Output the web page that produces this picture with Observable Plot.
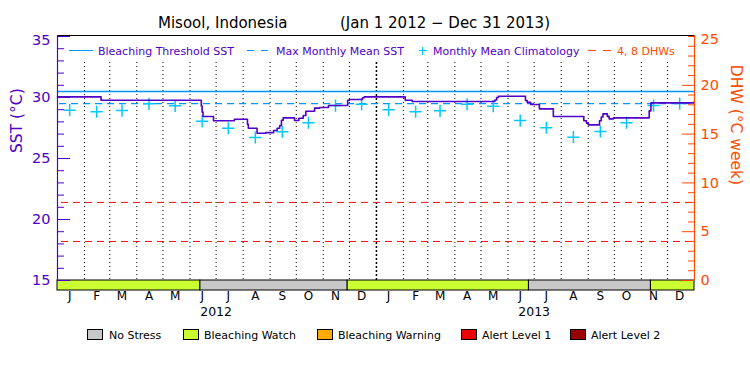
<!DOCTYPE html>
<html><head><meta charset="utf-8">
<script src="https://cdn.jsdelivr.net/npm/d3@7"></script>
<script src="https://cdn.jsdelivr.net/npm/@observablehq/plot@0.6"></script>
<style>
body{margin:0;background:#fff;}
#wrap{position:relative;width:750px;height:375px;font-family:"DejaVu Sans",sans-serif;overflow:hidden;}
#wrap svg{position:absolute;left:0;top:0;overflow:visible;}
.abs{position:absolute;white-space:nowrap;line-height:1;}
.box{position:absolute;width:14px;height:9px;border:1px solid #000;}
</style></head><body><div id="wrap"></div>
<script>
// ---------- data ----------
const sstDates = ["2012-01-01","2012-02-20","2012-06-14","2012-06-15","2012-06-16","2012-06-28","2012-07-22","2012-08-06","2012-08-07","2012-08-17","2012-08-27","2012-09-05","2012-09-09","2012-09-12","2012-09-14","2012-09-16","2012-09-29","2012-10-04","2012-10-09","2012-10-12","2012-10-22","2012-10-28","2012-11-07","2012-11-29","2012-12-01","2012-12-16","2012-12-18","2013-02-03","2013-02-11","2013-05-17","2013-05-19","2013-05-21","2013-06-21","2013-06-23","2013-06-27","2013-07-07","2013-07-23","2013-08-27","2013-08-30","2013-09-01","2013-09-14","2013-09-16","2013-09-18","2013-09-23","2013-09-25","2013-09-30","2013-11-10","2013-11-12","2013-12-31"];
const sstValues = [30.05,29.78,29.3,28.8,28.44,28.1,28.22,27.8,27.48,27.07,27.12,27.3,27.48,27.7,28.14,28.33,28.11,28.3,28.52,28.87,29.13,29.18,29.34,29.78,29.84,29.98,30.05,29.78,29.67,29.8,30.0,30.1,29.75,29.6,29.43,29.07,28.44,28.1,27.9,27.76,28.1,28.4,28.66,28.45,28.25,28.33,28.9,29.56,29.6];

const climDates = ["2012-01-15","2012-02-15","2012-03-15","2012-04-15","2012-05-15","2012-06-15","2012-07-15","2012-08-15","2012-09-15","2012-10-15","2012-11-15","2012-12-15","2013-01-15","2013-02-15","2013-03-15","2013-04-15","2013-05-15","2013-06-15","2013-07-15","2013-08-15","2013-09-15","2013-10-15","2013-11-15","2013-12-15"];
const climValues = [28.96,28.83,28.93,29.48,29.32,28.06,27.48,26.72,27.19,27.93,29.34,29.45,28.99,28.83,28.91,29.45,29.29,28.11,27.52,26.75,27.21,27.93,29.34,29.5];

const bleachingThreshold = 30.5;
const maxMonthlyMean = 29.5;
const dhwLevels = [4, 8];

const stressStart = ["2012-01-01","2012-06-13","2012-11-29","2013-06-25","2013-11-12"];
const stressEnd   = ["2012-06-13","2012-11-29","2013-06-25","2013-11-12","2014-01-01"];
const stressLevel = ["Bleaching Watch","No Stress","Bleaching Watch","No Stress","Bleaching Watch"];

const monthLetters = ["J","F","M","A","M","J","J","A","S","O","N","D","J","F","M","A","M","J","J","A","S","O","N","D"];
const yearLabels = ["2012","2013"];
const yearLabelDates = ["2012-07-01","2013-07-01"];

const sstTicks = [15,20,25,30,35];
const dhwTicks = [0,5,10,15,20,25];

const legendLevels = ["No Stress","Bleaching Watch","Bleaching Warning","Alert Level 1","Alert Level 2"];
const legendColors = ["#C8C8C8","#CCFF33","#FFAA00","#EE0000","#990000"];

// ---------- style ----------
const PURPLE="#5000C8", ORANGE="#FF4A00", BLUE="#0096FF", CYAN="#00C8FF", RED="#EE1111";
const FONT='"DejaVu Sans", sans-serif';

const P = s => new Date(s + "T00:00:00Z");
const sst = sstDates.map((d,i)=>({date:P(d), v:sstValues[i]}));
const clim = climDates.map((d,i)=>({date:P(d), v:climValues[i]}));
const stress = stressStart.map((d,i)=>({start:P(d), end:P(stressEnd[i]), level:stressLevel[i]}));
const colorOf = Object.fromEntries(legendLevels.map((l,i)=>[l, legendColors[i]]));
const monthMids = climDates.map((d,i)=>({date:P(d), t:monthLetters[i]}));
const years = yearLabels.map((y,i)=>({date:P(yearLabelDates[i]), t:y}));
const grid = d3.utcMonth.range(P("2012-02-01"), P("2014-01-01")).filter(d => d.getUTCMonth() !== 0);
const yearLines = [P("2013-01-01")];
const dhwToSst = d => 15 + d * 20 / 25;   // twin-axis mapping: 0..25 DHW -> 15..35 degC

const xStart = P("2012-01-01"), xEnd = P("2014-01-01");

const chart = Plot.plot({
  width: 750, height: 375,
  marginTop: 35, marginBottom: 85, marginLeft: 57, marginRight: 56,
  style: {fontFamily: FONT, background: "transparent", color: "black"},
  x: {type: "utc", domain: [xStart, xEnd], axis: null},
  y: {domain: [15, 35], range: [280, 36], axis: null},
  marks: [
    // month grid
    Plot.ruleX(grid, {stroke: "black", strokeDasharray: "1,3", insetTop: 27, insetBottom: 10}),
    Plot.ruleX(yearLines, {stroke: "black", strokeWidth: 1.5, strokeDasharray: "2,2", insetTop: 27, insetBottom: 10}),
    // DHW reference lines
    Plot.ruleY(dhwLevels, {y: dhwToSst, stroke: RED, strokeDasharray: "7,5", insetLeft: 4}),
    // threshold & MMM
    Plot.ruleY([bleachingThreshold], {stroke: BLUE, strokeWidth: 1.5}),
    Plot.ruleY([maxMonthlyMean], {stroke: BLUE, strokeWidth: 1.3, strokeDasharray: "7,5", insetLeft: 2}),
    // climatology
    Plot.dot(clim, {x: "date", y: "v", symbol: "plus", r: 4, stroke: CYAN, strokeWidth: 1.5}),
    // SST
    Plot.line(sst, {x: "date", y: "v", stroke: PURPLE, strokeWidth: 1.6, curve: "step-after"}),
    // stress strip
    Plot.rect(stress, {x1: "start", x2: "end", fill: d => colorOf[d.level], stroke: "black", strokeWidth: 1, insetTop: 245}),
    // frame pieces
    Plot.ruleY([35], {stroke: "black", dy: -1}),
    Plot.ruleX([xStart], {stroke: PURPLE, strokeWidth: 1.2, insetBottom: 10}),
    Plot.ruleX([xEnd], {stroke: ORANGE, strokeWidth: 1.2, insetBottom: 10}),
    // left ticks (inside)
    Plot.tickY(d3.range(15, 36).filter(v => v % 5), {stroke: PURPLE, insetRight: 630}),
    Plot.tickY(sstTicks, {stroke: PURPLE, insetRight: 624}),
    // right ticks (inside)
    Plot.tickY(d3.range(0, 26).filter(v => v % 5), {y: dhwToSst, stroke: ORANGE, insetLeft: 631}),
    Plot.tickY(dhwTicks.filter(v => v < 25), {y: dhwToSst, stroke: ORANGE, insetLeft: 625}),
    Plot.tickY([25], {y: dhwToSst, stroke: ORANGE, insetLeft: 631}),
    // left tick labels
    Plot.text(sstTicks.filter(v => v < 35), {y: d => d, text: d => String(d), frameAnchor: "left", dx: -7, textAnchor: "end", fill: PURPLE, fontSize: 14.5}),
    Plot.text([35], {y: d => d, text: d => String(d), frameAnchor: "left", dx: -7, dy: 4, textAnchor: "end", fill: PURPLE, fontSize: 14.5}),
    // right tick labels
    Plot.text(dhwTicks.filter(v => v < 25), {y: dhwToSst, text: d => String(d), frameAnchor: "right", dx: 6, textAnchor: "start", fill: ORANGE, fontSize: 14.5}),
    Plot.text([25], {y: dhwToSst, text: d => String(d), frameAnchor: "right", dx: 6, dy: 3, textAnchor: "start", fill: ORANGE, fontSize: 14.5}),
    // axis titles
    Plot.text(["SST (°C)"], {frameAnchor: "left", dx: -40, dy: -10, rotate: -90, fill: PURPLE, fontSize: 15.5}),
    Plot.text(["DHW (°C week)"], {frameAnchor: "right", dx: 41, dy: 22, rotate: 90, fill: ORANGE, fontSize: 15.5}),
    // month & year labels
    Plot.text(monthMids, {x: "date", text: "t", frameAnchor: "bottom", dy: 9, fill: "black", fontSize: 12}),
    Plot.text(years, {x: "date", text: "t", frameAnchor: "bottom", dy: 25, fill: "black", fontSize: 12.5})
  ]
});

const wrap = document.getElementById("wrap");
wrap.appendChild(chart);

// ---------- HTML title & legends ----------
function add(html){ wrap.insertAdjacentHTML("beforeend", html); }
add(`<div class="abs" style="left:158px;top:16px;font-size:15px;color:#000">Misool, Indonesia</div>`);
add(`<div class="abs" style="left:340px;top:16px;font-size:15px;color:#000">(Jan 1 2012 − Dec 31 2013)</div>`);

// in-plot legend
add(`<div class="abs" style="left:69px;top:50px;width:24px;border-top:1.5px solid ${BLUE}"></div>`);
add(`<div class="abs" style="left:98px;top:45.5px;font-size:11px;color:${PURPLE}">Bleaching Threshold SST</div>`);
add(`<div class="abs" style="left:247px;top:50px;width:7px;border-top:1.3px solid ${BLUE}"></div>`);
add(`<div class="abs" style="left:261px;top:50px;width:7px;border-top:1.3px solid ${BLUE}"></div>`);
add(`<div class="abs" style="left:276px;top:45.5px;font-size:11px;color:${PURPLE}">Max Monthly Mean SST</div>`);
add(`<div class="abs" style="left:419px;top:50px;width:8px;border-top:1.5px solid ${CYAN}"></div>`);
add(`<div class="abs" style="left:422px;top:46.5px;height:8px;border-left:1.5px solid ${CYAN}"></div>`);
add(`<div class="abs" style="left:433px;top:45.5px;font-size:11px;color:${PURPLE}">Monthly Mean Climatology</div>`);
add(`<div class="abs" style="left:588px;top:50px;width:8px;border-top:1.3px solid ${ORANGE}"></div>`);
add(`<div class="abs" style="left:603px;top:50px;width:8px;border-top:1.3px solid ${ORANGE}"></div>`);
add(`<div class="abs" style="left:617px;top:45.5px;font-size:11px;color:${ORANGE}">4, 8 DHWs</div>`);

// bottom legend
const boxX = [87,183,317,461,570];
const textX = [109,204,338,482,591];
legendLevels.forEach((l,i)=>{
  add(`<div class="box" style="left:${boxX[i]}px;top:329px;background:${legendColors[i]}"></div>`);
  add(`<div class="abs" style="left:${textX[i]}px;top:330px;font-size:11px;color:#000">${l}</div>`);
});
</script></body></html>
